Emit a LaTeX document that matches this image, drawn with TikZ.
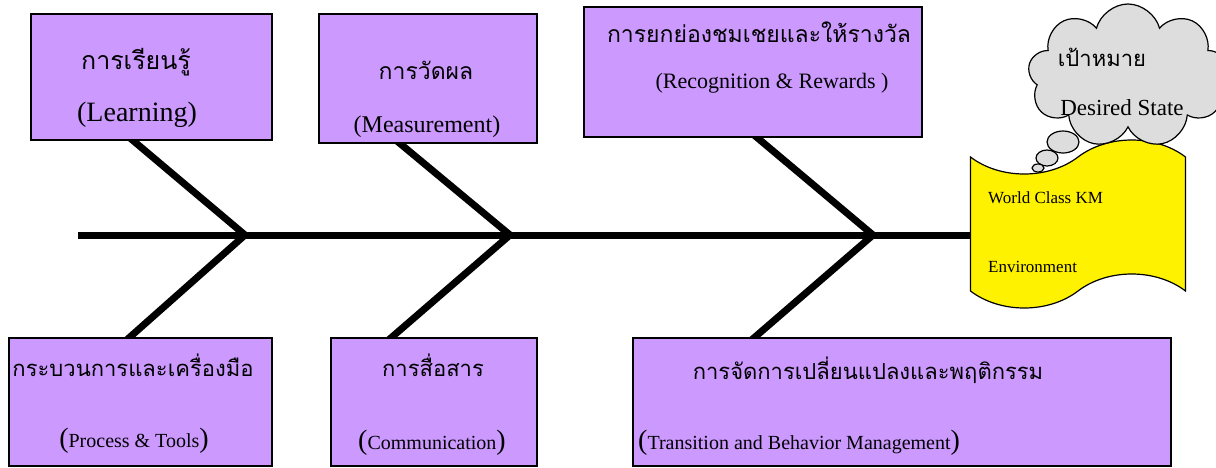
\documentclass[tikz,border=0pt]{standalone}
\usepackage{fontspec}
\setmainfont{Liberation Serif}
\newfontfamily\thaifont[Script=Thai]{Loma}
\usetikzlibrary{shapes.symbols,backgrounds}

\definecolor{boxviolet}{RGB}{204,153,255}
\definecolor{cloudgray}{RGB}{221,221,221}
\newcommand{\bigparen}[1]{{\fontsize{28}{30}\selectfont #1}}

\tikzset{
  box/.style={draw=black, line width=1.5pt, fill=boxviolet, anchor=north west, inner sep=0pt},
  bone/.style={line width=7pt, black},
  th/.style={font=\thaifont\fontsize{22}{26}\selectfont, inner sep=0pt},
  en/.style={font=\fontsize{24}{28}\selectfont, inner sep=0pt},
  bubble/.style={draw=black, line width=1.2pt, fill=cloudgray}
}

\begin{document}
\begin{tikzpicture}[x=1pt, y=-1pt]
    \useasboundingbox (0,0) rectangle (1216,467);

    % Cause boxes, top row
    \node[box, minimum width=241pt, minimum height=126pt] (learn) at (30,13) {};
    \node[box, minimum width=218pt, minimum height=129pt] (measure) at (318,13) {};
    \node[box, minimum width=338pt, minimum height=130pt] (reward) at (583,6) {};

    % Cause boxes, bottom row
    \node[box, minimum width=263pt, minimum height=128pt] (process) at (8,337) {};
    \node[box, minimum width=206pt, minimum height=128pt] (comm) at (330,337) {};
    \node[box, minimum width=538pt, minimum height=128pt] (change) at (632,337) {};

    % Box texts
    \node[th, font=\thaifont\fontsize{25}{28}\selectfont] (learn-th) at (136,62) {การเรียนรู้};
    \node[en, font=\fontsize{28}{30}\selectfont] (learn-en) at (137,115) {(Learning)};
    \node[th, font=\thaifont\fontsize{23}{26}\selectfont] (measure-th) at (426,70) {การวัดผล};
    \node[en] (measure-en) at (427,127) {(Measurement)};
    \node[th, font=\thaifont\fontsize{23}{26}\selectfont] (reward-th) at (759,32) {การยกย่องชมเชยและให้รางวัล};
    \node[en, font=\fontsize{22}{26}\selectfont] (reward-en) at (772,83) {(Recognition \& Rewards )};
    \node[th] (process-th) at (133,365) {กระบวนการและเครื่องมือ};
    \node[en, font=\fontsize{20}{24}\selectfont] (process-en) at (134,441) {\bigparen{(}Process \& Tools\bigparen{)}};
    \node[th] (comm-th) at (433,365) {การสื่อสาร};
    \node[en, font=\fontsize{20}{24}\selectfont] (comm-en) at (432,443) {\bigparen{(}Communication\bigparen{)}};
    \node[th] (change-th) at (868,370) {การจัดการเปลี่ยนแปลงและพฤติกรรม};
    \node[en, font=\fontsize{20}{24}\selectfont, anchor=west] (change-en) at (638,443) {\bigparen{(}Transition and Behavior Management\bigparen{)}};

    % Goal: wavy sheet, thought cloud and bubbles
    \node[tape, draw=black, line width=1.2pt, fill=yellow, tape bend top=in and out, tape bend bottom=in and out, tape bend height=34pt, minimum width=215pt, minimum height=168pt] (goal) at (1078,224) {};
    \node[en, font=\fontsize{17}{20}\selectfont, anchor=west] (goal-l1) at (988,198) {World Class KM};
    \node[en, font=\fontsize{17}{20}\selectfont, anchor=west] (goal-l2) at (988,267) {Environment};

    \node[cloud, cloud puffs=9, aspect=1.4, draw=black, line width=1.2pt, fill=cloudgray, minimum width=200pt, minimum height=144pt] (wish) at (1128,76) {};
    \node[th] (wish-th) at (1102,57) {เป้าหมาย};
    \node[en, font=\fontsize{23}{26}\selectfont] (wish-en) at (1122,108) {Desired State};
    \draw[bubble] (1063,142) ellipse [x radius=16pt, y radius=11pt];
    \draw[bubble] (1047,158) ellipse [x radius=11pt, y radius=8pt];
    \draw[bubble] (1038,168) ellipse [x radius=6pt, y radius=4pt];

    % Spine and bones
    \coordinate (tail) at (78,235);
    \coordinate (j1) at (245,235);
    \coordinate (j2) at (510,235);
    \coordinate (j3) at (873,235);
    \begin{pgfonlayer}{background}
        \draw[bone] (tail) -- (tail -| goal.west);
        \draw[bone, shorten <=-6pt, shorten >=-6pt] ([xshift=103pt]learn.south west) -- (j1) -- ([xshift=122pt]process.north west);
        \draw[bone, shorten <=-6pt, shorten >=-6pt] ([xshift=82pt]measure.south west) -- (j2) -- ([xshift=62pt]comm.north west);
        \draw[bone, shorten <=-6pt, shorten >=-6pt] ([xshift=174pt]reward.south west) -- (j3) -- ([xshift=123pt]change.north west);
    \end{pgfonlayer}
\end{tikzpicture}
\end{document}
